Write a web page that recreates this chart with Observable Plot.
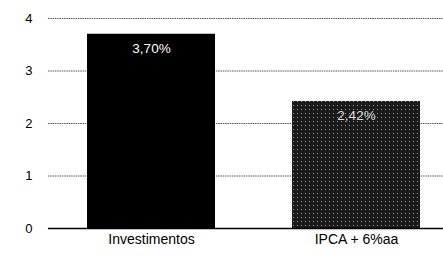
<!DOCTYPE html>
<html>
<head>
<meta charset="utf-8">
<script src="https://cdn.jsdelivr.net/npm/d3@7"></script>
<script src="https://cdn.jsdelivr.net/npm/@observablehq/plot@0.6"></script>
<style>
  html, body { margin: 0; padding: 0; background: #fff; }
  svg { font-family: "Liberation Sans", Arial, sans-serif; }
</style>
</head>
<body>
<div id="chart"></div>
<script>
const categories = ["Investimentos", "IPCA + 6%aa"];
const values = [3.70, 2.42];
const valueLabels = ["3,70%", "2,42%"];
const yTicks = [0, 1, 2, 3, 4];
const barColors = ["#000000", "url(#halftone)"];

const data = categories.map((c, i) => ({cat: c, v: values[i], label: valueLabels[i], color: barColors[i]}));

const chart = Plot.plot({
  width: 443,
  height: 257,
  marginLeft: 48,
  marginRight: 0,
  marginTop: 18,
  marginBottom: 29,
  style: {fontFamily: "Liberation Sans, Arial, sans-serif", fontSize: "12px", background: "#fff"},
  x: {domain: categories, range: [48, 459], paddingInner: 0.3756, paddingOuter: 0.19, label: null},
  y: {domain: [0, 4], label: null},
  marks: [
    Plot.ruleY(yTicks.filter(d => d > 0), {stroke: "#444", strokeWidth: 1, strokeDasharray: "1.5,0.8", strokeOpacity: 0.9}),
    Plot.barY(data, {x: "cat", y: "v", fill: "color"}),
    Plot.ruleY([0], {stroke: "#000", strokeWidth: 1.5}),
    Plot.text(data, {x: "cat", y: "v", text: "label", dy: 14, fill: (d, i) => i === 0 ? "#fff" : "#ddd", fontSize: 13.5}),
    Plot.axisY({ticks: yTicks, tickSize: 0, tickPadding: 16, tickFormat: d => String(d), fontSize: 13, fill: "#000"}),
    Plot.axisX({tickSize: 0, tickPadding: 6, fontSize: 14, fill: "#000"})
  ]
});
// halftone texture for the second bar
const ns = "http://www.w3.org/2000/svg";
const defs = document.createElementNS(ns, "defs");
const pat = document.createElementNS(ns, "pattern");
pat.setAttribute("id", "halftone");
pat.setAttribute("patternUnits", "userSpaceOnUse");
pat.setAttribute("width", "4");
pat.setAttribute("height", "4");
const bg = document.createElementNS(ns, "rect");
bg.setAttribute("width", "4"); bg.setAttribute("height", "4"); bg.setAttribute("fill", "#1a1a1a");
const dot = document.createElementNS(ns, "rect");
dot.setAttribute("x", "1"); dot.setAttribute("y", "1"); dot.setAttribute("width", "1"); dot.setAttribute("height", "1"); dot.setAttribute("fill", "#999");
pat.appendChild(bg); pat.appendChild(dot); defs.appendChild(pat);
chart.insertBefore(defs, chart.firstChild);
document.getElementById("chart").appendChild(chart);
</script>
</body>
</html>
